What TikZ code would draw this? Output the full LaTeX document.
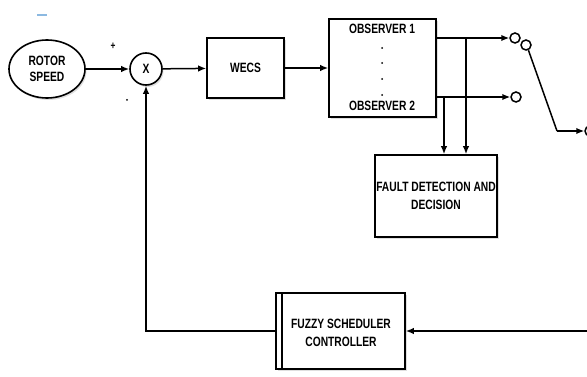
\documentclass[tikz,border=0pt]{standalone}
\usepackage{fontspec}
\setmainfont[FakeStretch=0.76]{Liberation Sans}
\usetikzlibrary{arrows.meta,positioning,shapes.geometric,shadows}

\definecolor{dashblue}{RGB}{140,185,225}
\tikzset{
  blk/.style={draw,line width=1.6pt,fill=white,inner sep=0pt,
    drop shadow={opacity=0.25,shadow xshift=1.5pt,shadow yshift=-2pt}},
  arr/.style={-{Latex[length=8pt,width=6.5pt]},line width=1.5pt},
  wire/.style={line width=1.5pt},
  lbl/.style={font=\bfseries\fontsize{13.5}{16}\selectfont,align=center},
  term/.style={circle,draw,line width=1.5pt,inner sep=0pt,minimum size=10pt,fill=white}
}

\begin{document}
\begin{tikzpicture}[x=1pt,y=-1pt]
\useasboundingbox (0,0) rectangle (587,377);
\clip (0,0) rectangle (587,377);
% blocks
\node[blk,ellipse,minimum width=76pt,minimum height=58pt,lbl] (rs) at (47,69) {ROTOR\\SPEED};
\node[blk,circle,minimum size=32pt,lbl] (sum) at (146,69) {X};
\node[blk,minimum width=77pt,minimum height=60pt,lbl] (wecs) at (245.5,68) {WECS};
\node[blk,minimum width=107pt,minimum height=98pt] (obs) at (382.5,68) {};
\node[lbl] (obs1) at (382,29) {OBSERVER 1};
\node[lbl] (obs2) at (382,106) {OBSERVER 2};
\foreach \y in {48,63,79,95}
  \fill (382,\y) circle (1pt);
\node[blk,minimum width=122pt,minimum height=82pt,lbl] (fd) at (436,196)
  {FAULT DETECTION AND\\[2pt]DECISION};
\node[blk,minimum width=129pt,minimum height=76pt] (fz) at (340.5,331) {};
\draw[line width=1.6pt] (282,293) -- (282,369);
\node[lbl] (fztxt) at (341,333) {FUZZY SCHEDULER\\[2pt]CONTROLLER};
% signs
\node[font=\bfseries\fontsize{11}{12}\selectfont] (plus) at (113,46) {+};
\fill (127,100) circle (1pt);
\draw[line width=2.5pt,dashblue] (37,15) -- (47,15);
% switch terminals
\node[term] (o1) at (515,38) {};
\node[term] (s2) at (526,45) {};
\node[term] (o2) at (516,97) {};
\node[term] (sw) at (590,131) {};
\coordinate (t1) at (466,38);
\coordinate (t2) at (444,97);
\coordinate (kn) at (557,131);
% forward path
\draw[arr] (rs) -- (sum);
\draw[arr] (sum) -- (wecs);
\draw[arr] (wecs) -- (obs.west |- wecs);
\draw[arr] (obs.east |- o1) -- (o1);
\draw[arr] (obs.east |- o2) -- (o2);
\draw[arr] (t1) -- (t1 |- fd.north);
\draw[arr] (t2) -- (t2 |- fd.north);
\draw[wire] (s2.-65) -- (kn);
\draw[arr] (kn) -- (sw);
% feedback
\draw[arr] (sw.250) |- (fz.east);
\draw[arr] (fz.west) -| (sum.south);
\end{tikzpicture}
\end{document}
